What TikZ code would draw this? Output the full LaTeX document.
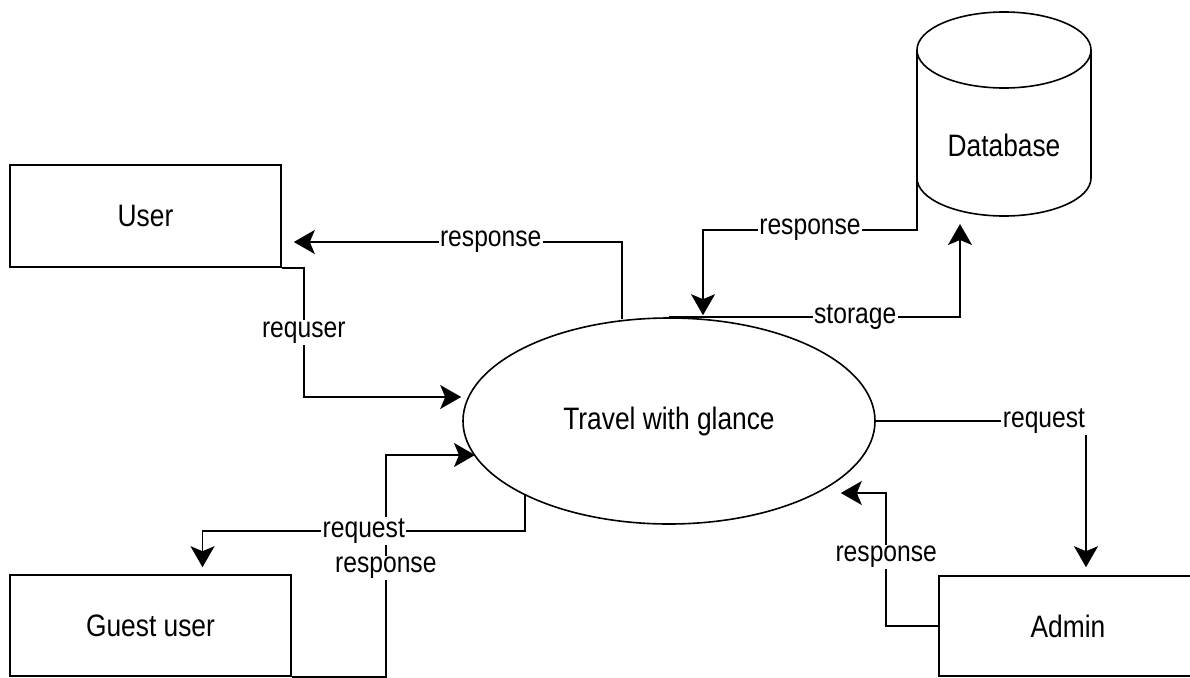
\documentclass[tikz,border=0pt]{standalone}
\usepackage{fontspec}
\setmainfont{Liberation Sans}[FakeStretch=0.85]
\usetikzlibrary{calc}
\usetikzlibrary{arrows.meta}
\usetikzlibrary{shapes.geometric}

\begin{document}
\begin{tikzpicture}[x=1pt, y=-1pt,
  ent/.style={draw, line width=1.6pt, inner sep=0pt, minimum height=101, font=\fontsize{31}{34}\selectfont},
  lbl/.style={fill=white, inner sep=1.5pt, font=\fontsize{29}{31}\selectfont},
  flow/.style={line width=1.7pt, -{Stealth[length=21pt, width=24pt, inset=5pt]}}]
\useasboundingbox (0,0) rectangle (1190,677);
\clip (0,0) rectangle (1190,677);

\node[ent, minimum width=271, minimum height=102] (user) at (145.5,216) {User};
\node[ent, minimum width=281] (guest) at (150.5,625.5) {Guest user};
\node[ent, minimum width=258, minimum height=100] (admin) at (1068,626) {Admin};
\node[ent, ellipse, minimum width=412, minimum height=206] (app) at (669,421) {Travel with glance};

% database cylinder
\draw[line width=1.6pt] (917,50) -- (917,178) arc[start angle=180, end angle=360, x radius=87pt, y radius=38pt] -- (1091,50);
\draw[line width=1.6pt] (1004,50) ellipse [x radius=87pt, y radius=38pt];
\node[font=\fontsize{31}{34}\selectfont] (db) at (1004,145) {Database};

\draw[flow] ($(app.center)+(-47,-102)$) |- node[lbl,pos=.7]{response} ($(user.east)+(12,26)$);
\draw[flow] (user.south east) -- ++(22,0) |- node[lbl,pos=.25]{requser} ($(app.west)+(-1,-24)$);
\draw[flow] ($(db.center)+(-87,33)$) -- ++(0,52) -| node[lbl,pos=.25]{response} ($(app.north)+(34,-2)$);
\draw[flow] (app.north) -| node[lbl,pos=.32]{storage} ($(db.center)+(-44,79)$);
\draw[flow] (app.east) -| node[lbl,pos=.4]{request} ($(admin.north)+(18,-8)$);
\draw[flow] (admin.west) -- ++(-52,0) |- node[lbl,pos=.26]{response} ($(app.east)+(-35,72)$);
\draw[flow] (guest.south east) -- ++(94,0) |- node[lbl,pos=.245]{response} ($(app.center)+(-194,34)$);
\draw[flow] ($(app.center)+(-144,73)$) -- ++(0,37) -| node[lbl,pos=.25]{request} ($(guest.north)+(52,-7)$);

\end{tikzpicture}
\end{document}
